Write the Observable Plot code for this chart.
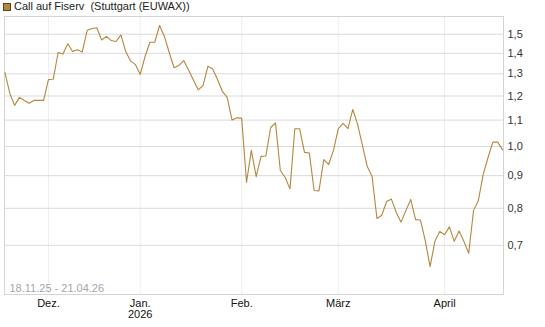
<!DOCTYPE html>
<html>
<head>
<meta charset="utf-8">
<script src="https://cdn.jsdelivr.net/npm/d3@7"></script>
<script src="https://cdn.jsdelivr.net/npm/@observablehq/plot@0.6"></script>
<style>
  html, body { margin: 0; padding: 0; background: #fff; }
  body { width: 545px; height: 327px; overflow: hidden; font-family: "Liberation Sans", Arial, sans-serif; }
  #title { position: relative; height: 16px; font-size: 11px; color: #222; }
  #title .sw { position: absolute; left: 3px; top: 3px; width: 6px; height: 6px; background: #b3873f; border: 1px solid #5a4320; }
  #title .tx { position: absolute; left: 14px; top: 0px; line-height: 13px; white-space: pre; }
</style>
</head>
<body>
<div id="title"><span class="sw"></span><span class="tx">Call auf Fiserv  (Stuttgart (EUWAX))</span></div>
<div id="chart"></div>
<script>
// Trading-day values, 18.11.25 – 21.04.26 (one per trading day)
const values = [
  1.306, 1.211, 1.160, 1.194, 1.181, 1.169, 1.181, 1.181, 1.181, 1.274,
  1.275, 1.404, 1.396, 1.449, 1.409, 1.418, 1.407, 1.520, 1.531, 1.535,
  1.469, 1.488, 1.466, 1.461, 1.496, 1.409, 1.362, 1.344, 1.297, 1.384,
  1.457, 1.457, 1.548, 1.488, 1.404, 1.329, 1.340, 1.364, 1.318, 1.271,
  1.227, 1.246, 1.336, 1.323, 1.274, 1.220, 1.194, 1.100, 1.109, 1.108,
  0.878, 0.986, 0.897, 0.965, 0.966, 1.071, 1.089, 0.917, 0.894, 0.858,
  1.066, 1.066, 0.979, 0.977, 0.853, 0.852, 0.954, 0.937, 0.986, 1.067,
  1.087, 1.067, 1.143, 1.083, 1.004, 0.930, 0.897, 0.771, 0.780, 0.820,
  0.827, 0.788, 0.761, 0.794, 0.826, 0.768, 0.767, 0.712, 0.648, 0.710,
  0.736, 0.727, 0.748, 0.710, 0.737, 0.710, 0.680, 0.794, 0.823, 0.904,
  0.961, 1.016, 1.016, 0.988
];
const yTicks = [0.7, 0.8, 0.9, 1.0, 1.1, 1.2, 1.3, 1.4, 1.5];
const monthTicks = [9, 28, 49, 69, 91];            // trading-day index of month start
const monthLabels = ["Dez.", "Jan.\n2026", "Feb.", "März", "April"];
const rangeLabel = "18.11.25 - 21.04.26";

const labelOf = new Map(monthTicks.map((t, i) => [t, monthLabels[i]]));
const data = values.map((v, i) => ({i, v}));

const chart = Plot.plot({
  width: 545,
  height: 311,
  marginLeft: 4,
  marginRight: 42,
  marginTop: 0,
  marginBottom: 33,
  style: {fontFamily: "'Liberation Sans', Arial, sans-serif", fontSize: "11px", background: "#fff", overflow: "visible"},
  x: {type: "linear", domain: [-0.1, 103.2], axis: null},
  y: {type: "log", domain: [0.586, 1.599], axis: null},
  marks: [
    Plot.ruleX(monthTicks, {stroke: "#eeeeee"}),
    Plot.ruleY(yTicks, {stroke: "#dadada"}),
    Plot.frame({stroke: "#d4d4d4"}),
    Plot.lineY(data, {x: "i", y: "v", stroke: "#b3873f", strokeWidth: 1.1}),
    Plot.axisY(yTicks, {anchor: "right", tickSize: 0, tickPadding: 4, fill: "#333", label: null,
      tickFormat: d => d.toFixed(1).replace(".", ",")}),
    Plot.axisX(monthTicks, {anchor: "bottom", tickSize: 0, tickPadding: 5, fill: "#111", label: null,
      tickFormat: d => labelOf.get(d)}),
    Plot.text([rangeLabel], {frameAnchor: "bottom-left", text: d => d, dx: 5, dy: -3,
      lineAnchor: "bottom", textAnchor: "start", fill: "#a0a7b0"})
  ]
});
document.getElementById("chart").appendChild(chart);
</script>
</body>
</html>
